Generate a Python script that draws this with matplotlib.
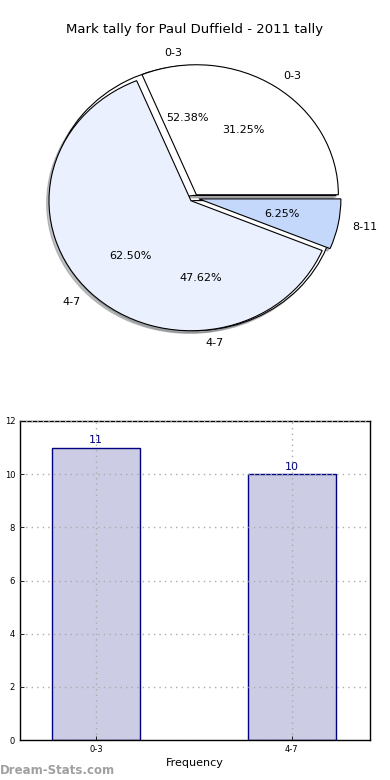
import numpy as np
import matplotlib
matplotlib.use("Agg")
import matplotlib.pyplot as plt

# pie 1: full tally
tally_labels = ['0-3', '4-7', '8-11']
tally_pct = [31.25, 62.50, 6.25]
# pie 2: frequency tally
freq_labels = ['0-3', '4-7']
freq_counts = [11, 10]

title = 'Mark tally for Paul Duffield - 2011 tally'

fig = plt.figure(figsize=(3.9, 7.8), dpi=100)

# ---- pie ----
shadow = dict(ox=-0.012, oy=-0.014, shade=0.45)
ax1 = fig.add_axes([16.5 / 390, 1 - 360.5 / 780, 355 / 390, 325 / 780])
ax1.pie(freq_counts, labels=freq_labels, autopct='%1.2f%%', explode=(0.02, 0.02),
        colors=['white', 'white'], shadow=shadow,
        wedgeprops=dict(edgecolor='black', linewidth=0.8),
        textprops=dict(fontsize=8))
ax1.pie(tally_pct, labels=tally_labels, autopct='%1.2f%%', explode=(0.03, 0.03, 0.035),
        colors=['white', '#EAF0FD', '#C4D8FC'], shadow=shadow,
        wedgeprops=dict(edgecolor='black', linewidth=0.8),
        textprops=dict(fontsize=8))
ax1.set_aspect('auto')
ax1.set_xlim(-1.25, 1.25)
ax1.set_ylim(-1.25, 1.25)
fig.text(0.5, 1 - 30 / 780, title, ha='center', va='center', fontsize=9.5)

# ---- bars ----
ax2 = fig.add_axes([20 / 390, 40 / 780, 350 / 390, 319 / 780])
x = np.arange(len(freq_labels))
bars = ax2.bar(x, freq_counts, 0.45, color='#CCCCE5', edgecolor='navy', linewidth=1, zorder=2)
for b, v in zip(bars, freq_counts):
    ax2.text(b.get_x() + b.get_width() / 2, v + 0.1, str(v), ha='center', va='bottom',
             color='navy', fontsize=8, zorder=3)
ax2.set_xlim(-0.39, 1.40)
ax2.set_ylim(0, 12)
ax2.set_yticks(range(0, 13, 2))
ax2.set_xticks(x)
ax2.set_xticklabels(freq_labels)
ax2.tick_params(labelsize=6, direction='in', length=3, width=0.6)
ax2.grid(True, linestyle=(0, (1, 3)), color='#AAAAAA', linewidth=1, zorder=3)
ax2.set_axisbelow(False)
for s in ax2.spines.values():
    s.set_linewidth(1)
ax2.set_xlabel('Frequency', fontsize=8, labelpad=3)
ax2.set_ylabel('Student Total', fontsize=8)
ax2.yaxis.set_label_coords(-0.049, 0.5)

fig.text(0.0, 1 - 771 / 780, 'Dream-Stats.com', ha='left', va='center',
         fontsize=8.5, color='#A0A0A0', fontweight='bold')

fig.savefig('out.png', dpi=100)
